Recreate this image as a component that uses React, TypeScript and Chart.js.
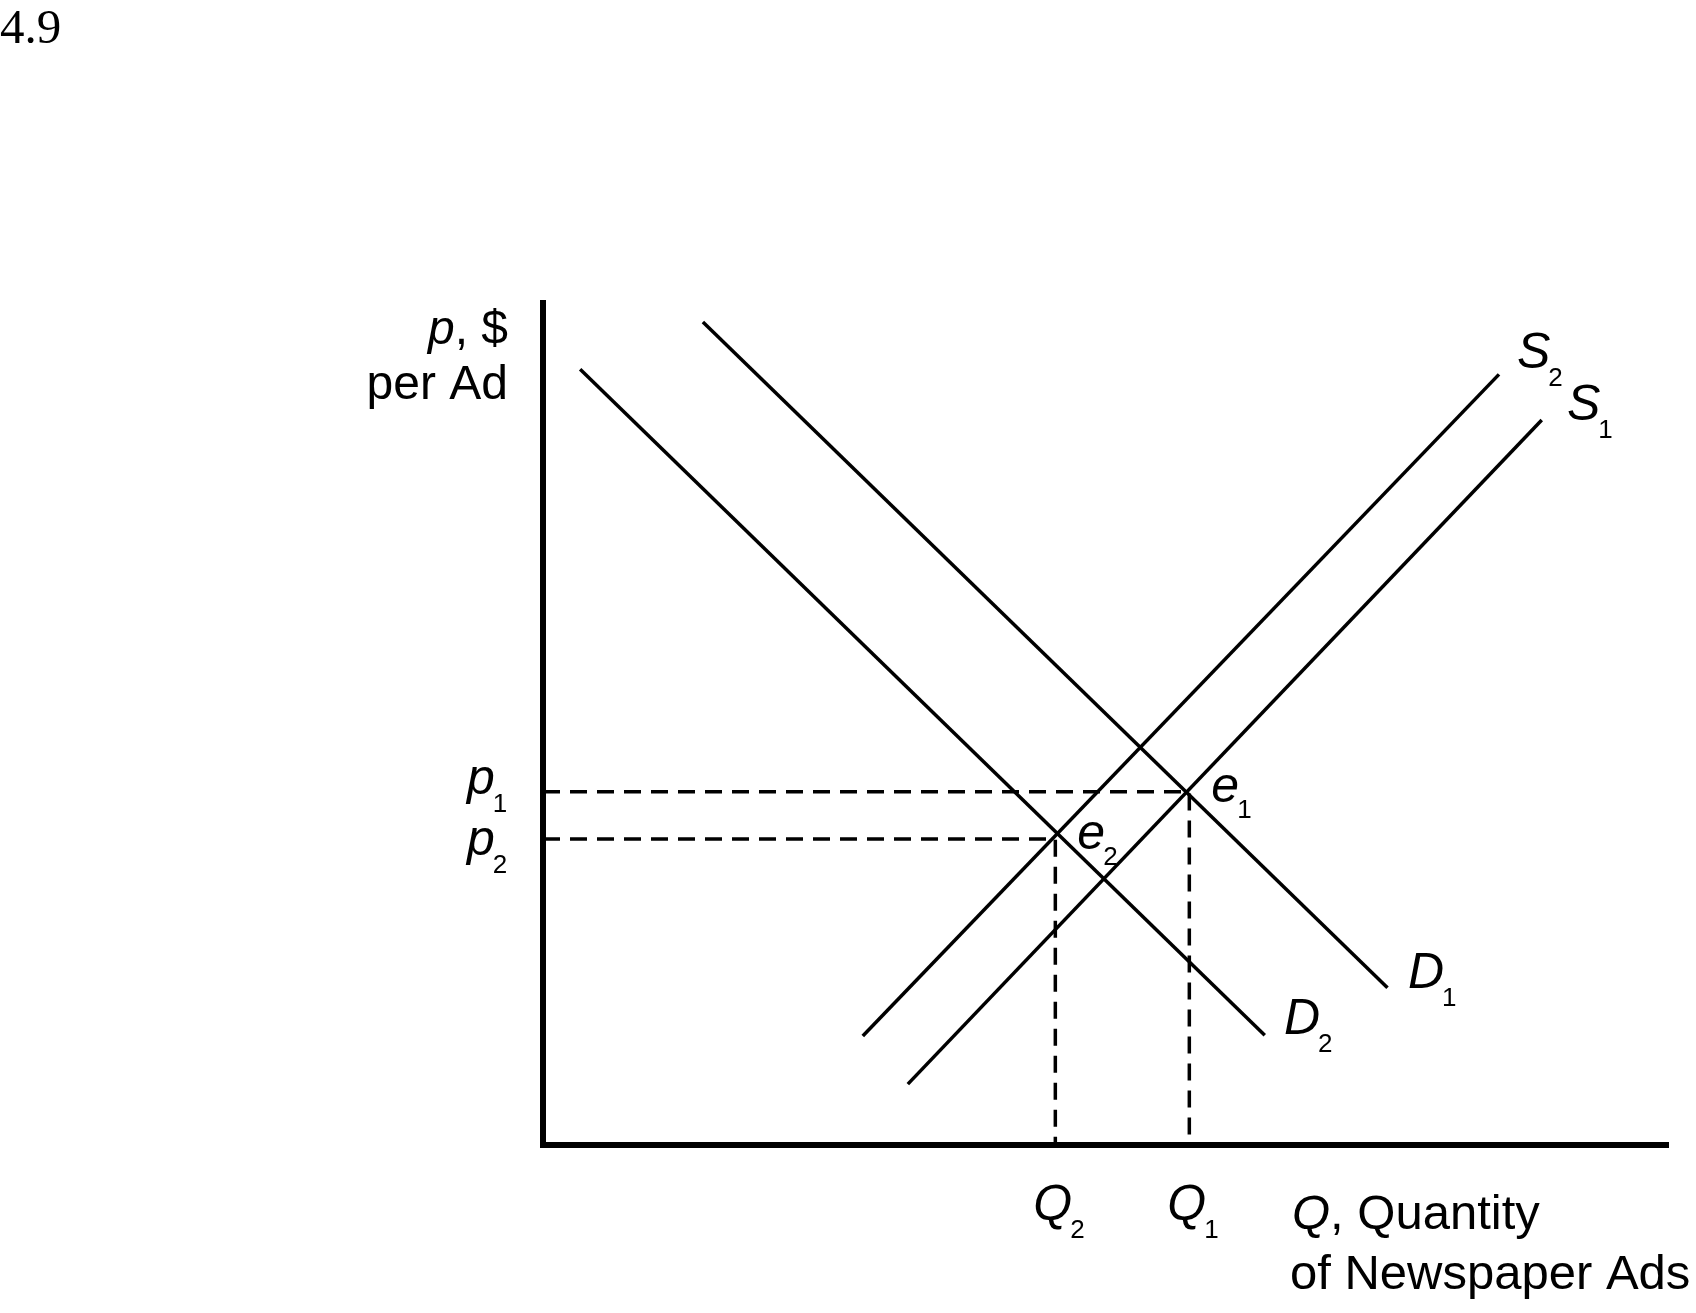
import React, { useEffect, useRef } from "react";
import { Chart, registerables } from "chart.js";

Chart.register(...registerables);

// Curve endpoints (quantity index 0-100, price index 0-100)
const demandD1 = [
  { x: 14.2, y: 97.4 },
  { x: 75.0, y: 18.6 },
];
const demandD2 = [
  { x: 3.3, y: 91.8 },
  { x: 64.1, y: 13.0 },
];
const supplyS1 = [
  { x: 32.4, y: 7.2 },
  { x: 88.7, y: 85.8 },
];
const supplyS2 = [
  { x: 28.4, y: 12.9 },
  { x: 84.9, y: 91.2 },
];
// Equilibria e1, e2
const eqLabels = ["1", "2"];
const eqQ = [57.4, 45.5];
const eqP = [41.8, 36.2];

const FONT = '"Liberation Sans", Arial, sans-serif';

function drawSub(
  ctx: CanvasRenderingContext2D,
  main: string,
  sub: string,
  x: number,
  baseline: number,
  subDrop = 16
) {
  ctx.font = `italic 50px ${FONT}`;
  ctx.textAlign = "left";
  ctx.textBaseline = "alphabetic";
  ctx.fillText(main, x, baseline);
  const w = ctx.measureText(main).width;
  ctx.font = `26px ${FONT}`;
  ctx.fillText(sub, x + w - 2, baseline + subDrop);
}

const labelPlugin = {
  id: "econLabels",
  afterDraw(chart: any) {
    const ctx: CanvasRenderingContext2D = chart.ctx;
    const { left, right, top, bottom } = chart.chartArea;
    const xs = chart.scales.x;
    const ys = chart.scales.y;
    ctx.save();
    ctx.fillStyle = "#000";
    ctx.strokeStyle = "#000";
    // axes
    ctx.lineWidth = 6;
    ctx.lineCap = "butt";
    ctx.beginPath();
    ctx.moveTo(left, top);
    ctx.lineTo(left, bottom + 3);
    ctx.stroke();
    ctx.beginPath();
    ctx.moveTo(left - 3, bottom);
    ctx.lineTo(right, bottom);
    ctx.stroke();

    // figure number
    ctx.font = `49px "Liberation Serif", "Times New Roman", serif`;
    ctx.textAlign = "left";
    ctx.textBaseline = "alphabetic";
    ctx.fillText("4.9", 0, 43);

    // y-axis title
    ctx.textAlign = "right";
    ctx.font = `48px ${FONT}`;
    const rest = ", $";
    const restW = ctx.measureText(rest).width;
    ctx.fillText(rest, 508, 344);
    ctx.font = `italic 48px ${FONT}`;
    ctx.fillText("p", 508 - restW, 344);
    ctx.font = `48px ${FONT}`;
    ctx.fillText("per Ad", 508, 399);

    // x-axis title
    ctx.textAlign = "left";
    ctx.font = `italic 49px ${FONT}`;
    ctx.fillText("Q", 1292, 1229);
    const qW = ctx.measureText("Q").width;
    ctx.font = `49px ${FONT}`;
    ctx.fillText(", Quantity", 1292 + qW, 1229);
    ctx.fillText("of Newspaper Ads", 1290, 1289);

    // curve labels
    drawSub(ctx, "S", "2", 1517, 368, 18);
    drawSub(ctx, "S", "1", 1567, 420, 18);
    drawSub(ctx, "D", "1", 1408, 988, 18);
    drawSub(ctx, "D", "2", 1284, 1034, 18);

    // equilibrium labels, price and quantity labels
    const pBase = [2, 16];
    for (let i = 0; i < eqQ.length; i++) {
      const px = xs.getPixelForValue(eqQ[i]);
      const py = ys.getPixelForValue(eqP[i]);
      drawSub(ctx, "e", eqLabels[i], px + 22, py + 10, 16);
      drawSub(ctx, "p", eqLabels[i], 467, py + pBase[i], 18);
      drawSub(ctx, "Q", eqLabels[i], px - 22, 1220, 18);
    }
    ctx.restore();
  },
};

export default function App() {
  const ref = useRef<HTMLCanvasElement>(null);
  useEffect(() => {
    if (!ref.current) return;
    const solid = (data: any[]) => ({
      data,
      showLine: true,
      borderColor: "#000",
      borderWidth: 3.5,
      pointRadius: 0,
      tension: 0,
    });
    const dashed = (q: number, p: number) => ({
      data: [
        { x: 0, y: p },
        { x: q, y: p },
        { x: q, y: 0 },
      ],
      showLine: true,
      borderColor: "#000",
      borderWidth: 3.5,
      borderDash: [17, 10],
      pointRadius: 0,
      tension: 0,
    });
    const chart = new Chart(ref.current, {
      type: "scatter",
      data: {
        datasets: [
          solid(demandD1),
          solid(demandD2),
          solid(supplyS1),
          solid(supplyS2),
          ...eqQ.map((q, i) => dashed(q, eqP[i])),
        ] as any,
      },
      options: {
        responsive: false,
        maintainAspectRatio: false,
        animation: false,
        devicePixelRatio: 1,
        layout: { padding: { left: 543, right: 27, top: 300, bottom: 168 } },
        scales: {
          x: { type: "linear", min: 0, max: 100, display: false },
          y: { type: "linear", min: 0, max: 100, display: false },
        },
        plugins: { legend: { display: false }, tooltip: { enabled: false } },
      },
      plugins: [labelPlugin],
    });
    return () => chart.destroy();
  }, []);
  return (
    <div style={{ position: "absolute", left: 0, top: 0, width: 1696, height: 1313, background: "#fff" }}>
      <canvas ref={ref} width={1696} height={1313} style={{ display: "block" }} />
    </div>
  );
}
